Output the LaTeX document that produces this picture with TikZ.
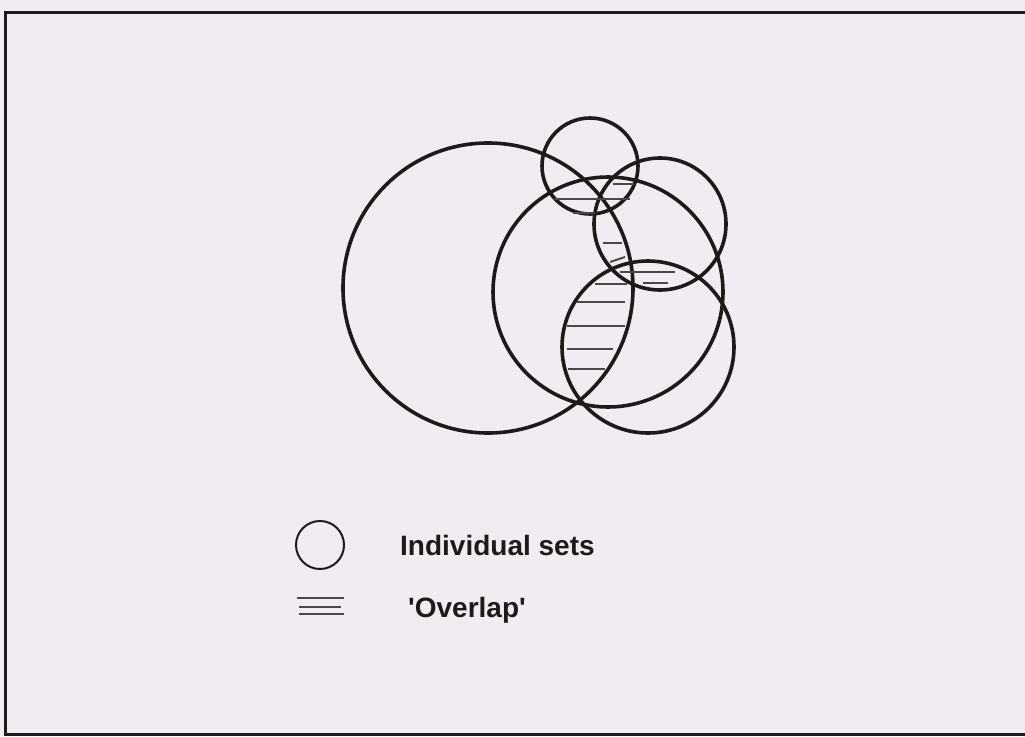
\documentclass[tikz,border=0pt]{standalone}
\usepackage{fontspec}
\newfontfamily\lab{Liberation Sans}[Ligatures=TeXOff]
\definecolor{paper}{RGB}{240,236,241}
\definecolor{ink}{RGB}{30,26,28}
\definecolor{hatchc}{RGB}{75,70,74}
\tikzset{
  setcirc/.style={draw=ink, line width=3.6pt},
  hatchline/.style={draw=hatchc, line width=2pt},
  frameline/.style={draw=ink, line width=3pt},
  legendtext/.style={font=\lab\bfseries\fontsize{28}{32}\selectfont, text=ink, inner sep=0pt, anchor=base west}
}
\begin{document}
\begin{tikzpicture}[x=1pt,y=-1pt]
\useasboundingbox (0,0) rectangle (1025,736);
\fill[paper] (0,0) rectangle (1025,736);
% frame
\draw[frameline] (1040,12) -- (5,12) -- (5,734) -- (1040,734);
% sets
\draw[setcirc] (488,288) circle[radius=145pt];
\draw[setcirc] (608,292) circle[radius=115pt];
\draw[setcirc] (590,166) circle[radius=48pt];
\draw[setcirc] (660,224) circle[radius=66pt];
\draw[setcirc] (648,347) circle[radius=86pt];
% hatching
\draw[hatchline] (613,184) -- (634,184);
\draw[hatchline] (554,199) -- (630,199);
\draw[hatchline] (573,213) -- (595,213);
\draw[hatchline] (603,243) -- (622,243);
\draw[hatchline] (610,262) -- (625,257);
\draw[hatchline] (620,272) -- (675,272);
\draw[hatchline] (595,284) -- (627,284);
\draw[hatchline] (643,283) -- (668,283);
\draw[hatchline] (577,302) -- (625,302);
\draw[hatchline] (567,326) -- (625,326);
\draw[hatchline] (567,349) -- (613,349);
\draw[hatchline] (568,369) -- (605,369);
% legend
\draw[draw=ink, line width=2pt] (320,545) circle[radius=24pt];
\draw[hatchline] (297,598) -- (344,598);
\draw[hatchline] (299,607) -- (341,607);
\draw[hatchline] (299,614) -- (344,614);
\node[legendtext] (lsets) at (400,555) {Individual sets};
\node[legendtext] (loverlap) at (408,617) {'Overlap'};
\end{tikzpicture}
\end{document}
